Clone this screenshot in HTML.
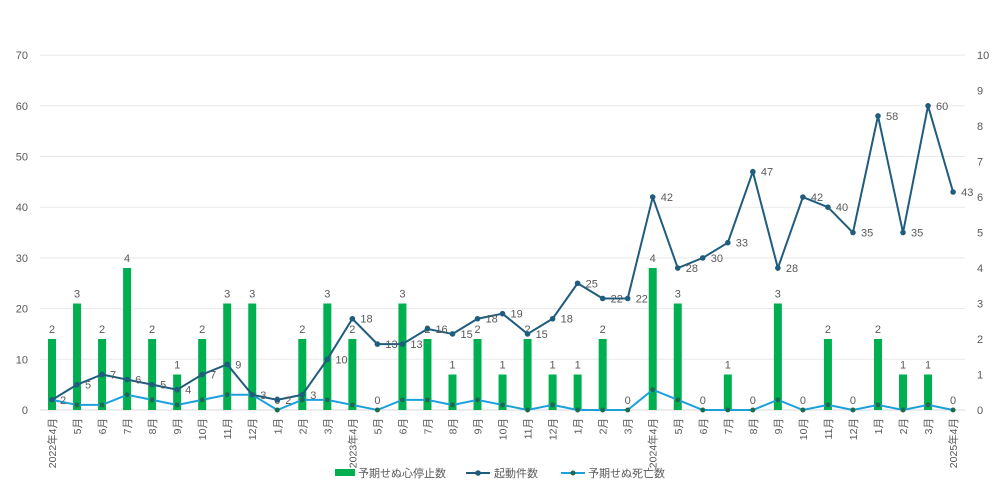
<!DOCTYPE html><html><head><meta charset="utf-8"><style>body{margin:0;background:#fff}svg{display:block}text{font-family:"Liberation Sans","Noto Sans CJK JP",sans-serif;fill:#595959}</style></head><body>
<svg id="s" width="999" height="487" xmlns="http://www.w3.org/2000/svg"></svg>
<script>
const s=document.getElementById('s');let h='';
const y0=410,pl=50.7/10,pr=35.5;
const X=i=>52+i*25.03;
for(let v=0;v<=70;v+=10){const y=y0-v*pl;h+=`<text x="28" y="${y+4}" font-size="11" text-anchor="end">${v}</text>`;if(v>0)h+=`<line x1="40" x2="965" y1="${y}" y2="${y}" stroke="#e8e8e8"/>`;}
for(let v=0;v<=10;v++){const y=y0-v*pr;h+=`<text x="977" y="${y+4}" font-size="11">${v}</text>`;}
h+=`<line x1="40" x2="965" y1="${y0}" y2="${y0}" stroke="#d9d9d9"/>`;
const bars=[2,3,2,4,2,1,2,3,3,0,2,3,2,0,3,2,1,2,1,2,1,1,2,0,4,3,0,1,0,3,0,2,0,2,1,1,0];
const L=[2,5,7,6,5,4,7,9,3,2,3,10,18,13,13,16,15,18,19,15,18,25,22,22,42,28,30,33,47,28,42,40,35,58,35,60,43];
const D=[2,1,1,3,2,1,2,3,3,0,2,2,1,0,2,2,1,2,1,0,1,0,0,0,4,2,0,0,0,2,0,1,0,1,0,1,0];
const lab=['2022年4月','5月','6月','7月','8月','9月','10月','11月','12月','1月','2月','3月','2023年4月','5月','6月','7月','8月','9月','10月','11月','12月','1月','2月','3月','2024年4月','5月','6月','7月','8月','9月','10月','11月','12月','1月','2月','3月','2025年4月'];
bars.forEach((v,i)=>{const x=X(i),hh=v*pr;if(v>0)h+=`<rect x="${x-4}" y="${y0-hh}" width="8" height="${hh}" fill="#00b050"/>`;h+=`<text x="${x}" y="${y0-hh-6}" font-size="11" text-anchor="middle">${v}</text>`;
h+=`<text transform="translate(${x+4},418) rotate(-90)" font-size="10.5" text-anchor="end">${lab[i]}</text>`;});
const pts=a=>a.map((v,i)=>X(i)+','+(y0-v*pl)).join(' ');
h+=`<polyline points="${pts(D)}" fill="none" stroke="#1ca0dc" stroke-width="2"/>`;
D.forEach((v,i)=>h+=`<circle cx="${X(i)}" cy="${y0-v*pl}" r="2.5" fill="#1e6b4a"/>`);
h+=`<polyline points="${pts(L)}" fill="none" stroke="#1f5c7e" stroke-width="2"/>`;
L.forEach((v,i)=>{const y=y0-v*pl;h+=`<circle cx="${X(i)}" cy="${y}" r="2.8" fill="#1f5c7e"/><text x="${X(i)+8}" y="${y+4}" font-size="11">${v}</text>`;});
h+=`<rect x="335" y="469" width="20" height="7" fill="#00b050"/><text x="358" y="477" font-size="11">予期せぬ心停止数</text>`;
h+=`<line x1="466" x2="490" y1="473" y2="473" stroke="#1f5c7e" stroke-width="2"/><circle cx="478" cy="473" r="2.8" fill="#1f5c7e"/><text x="494" y="477" font-size="11">起動件数</text>`;
h+=`<line x1="561" x2="585" y1="473" y2="473" stroke="#1ca0dc" stroke-width="2"/><circle cx="573" cy="473" r="2.5" fill="#1e6b4a"/><text x="588" y="477" font-size="11">予期せぬ死亡数</text>`;
s.innerHTML=h;
</script></body></html>
